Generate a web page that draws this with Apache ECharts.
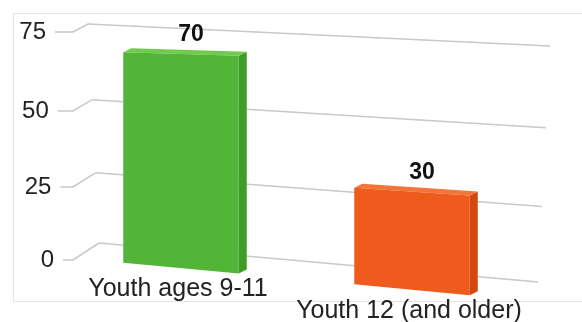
<!DOCTYPE html>
<html><head><meta charset="utf-8">
<script src="https://cdn.jsdelivr.net/npm/echarts@6/dist/echarts.min.js"></script>
<style>html,body{margin:0;padding:0;background:#fff}#c{width:582px;height:322px}</style>
</head><body><div id="c"></div>
<script>
// ---- data ----
const categories = ['Youth ages 9-11', 'Youth 12 (and older)'];
const values = [70, 30];
const tickValues = [0, 25, 50, 75];
const tickLabels = ['0', '25', '50', '75'];

// ---- style / layout ----
const faceColors = [
  {front: '#53b537', top: '#6fcb4e', side: '#3f9c28'},
  {front: '#ef5a1d', top: '#f47538', side: '#d24810'}
];
const BAR_PLANE = {y0L: 257.2, y0R: 300.6, y1L: 35.8, y1R: 47.5};
const BACK = {tl: [88, 24], tr: [550, 46], bl: [99, 243], br: [538, 282]};
const SIDE_FRONT = {x: 73, yTop: 32, yBot: 260};
const TICK_START = {xTop: 55, xBot: 63};
const DEPTH = [8, -4];
const FONT = '"Liberation Sans", Arial, sans-serif';

function frac(cs, px, py) {
  return [(px - cs.x) / cs.width, (cs.y + cs.height - py) / cs.height];
}
function warp(v) { return v - 0.015 * Math.sin(Math.PI * v); }
function barPoint(cs, p) {
  const f = frac(cs, p[0], p[1]);
  const u = f[0], v = f[1];
  const y0 = BAR_PLANE.y0L + (BAR_PLANE.y0R - BAR_PLANE.y0L) * u;
  const y1 = BAR_PLANE.y1L + (BAR_PLANE.y1R - BAR_PLANE.y1L) * u;
  return [p[0], y0 + (y1 - y0) * v];
}
function backPoint(u, v) {
  v = warp(v);
  const l = [BACK.bl[0] + (BACK.tl[0] - BACK.bl[0]) * v, BACK.bl[1] + (BACK.tl[1] - BACK.bl[1]) * v];
  const r = [BACK.br[0] + (BACK.tr[0] - BACK.br[0]) * v, BACK.br[1] + (BACK.tr[1] - BACK.br[1]) * v];
  return [l[0] + (r[0] - l[0]) * u, l[1] + (r[1] - l[1]) * u];
}
function add(p, d) { return [p[0] + d[0], p[1] + d[1]]; }

const chart = echarts.init(document.getElementById('c'), null, {renderer: 'canvas'});

const option = {
  animation: false,
  backgroundColor: '#ffffff',
  graphic: [{
    type: 'rect', z: -10, silent: true,
    shape: {x: 13.5, y: 13.5, width: 600, height: 288},
    style: {fill: 'none', stroke: '#e4e4e4', lineWidth: 1}
  }],
  grid: {left: 65.5, right: 54.5, top: 30, bottom: 60},
  xAxis: {type: 'category', data: categories, show: false},
  yAxis: {type: 'value', min: 0, max: 75, interval: 25, show: false},
  series: [
    {
      type: 'custom',
      z: 1,
      silent: true,
      data: tickValues.map(function (t, i) { return [0, t, i]; }),
      renderItem: function (params, api) {
        const cs = params.coordSys;
        const t = api.value(1);
        const idx = api.value(2);
        const p = api.coord([0, t]);
        const v = frac(cs, p[0], p[1])[1];
        const wv = warp(v);
        const bl = backPoint(0, v), br = backPoint(1, v);
        const fy = SIDE_FRONT.yBot + (SIDE_FRONT.yTop - SIDE_FRONT.yBot) * wv;
        const tx = TICK_START.xBot + (TICK_START.xTop - TICK_START.xBot) * wv;
        const lineStyle = {stroke: '#c8c8c8', lineWidth: 1.5, fill: null};
        return {
          type: 'group',
          children: [
            {type: 'line', shape: {x1: bl[0], y1: bl[1], x2: br[0], y2: br[1]}, style: lineStyle},
            {type: 'polyline', shape: {points: [[tx, fy], [SIDE_FRONT.x, fy], bl]}, style: lineStyle},
            {type: 'text', style: {
              text: tickLabels[idx], x: tx - 9, y: fy, align: 'right', verticalAlign: 'middle',
              font: '24px ' + FONT, fill: '#222'
            }}
          ]
        };
      }
    },
    {
      type: 'custom',
      z: 2,
      silent: true,
      data: values.map(function (v, i) { return [i, v]; }),
      renderItem: function (params, api) {
        const cs = params.coordSys;
        const i = api.value(0);
        const val = api.value(1);
        const c0 = api.coord([i, 0]);
        const c1 = api.coord([i, val]);
        const band = api.size([1, 0])[0];
        const hw = band * 0.25;
        const fl0 = barPoint(cs, [c0[0] - hw, c0[1]]);
        const fr0 = barPoint(cs, [c0[0] + hw, c0[1]]);
        const fl1 = barPoint(cs, [c1[0] - hw, c1[1]]);
        const fr1 = barPoint(cs, [c1[0] + hw, c1[1]]);
        const col = faceColors[i];
        const topMid = [(fl1[0] + fr1[0]) / 2 + DEPTH[0], (fl1[1] + fr1[1]) / 2 + DEPTH[1]];
        const botMid = [(fl0[0] + fr0[0]) / 2, (fl0[1] + fr0[1]) / 2];
        return {
          type: 'group',
          children: [
            {type: 'polygon', shape: {points: [fr0, fr1, add(fr1, DEPTH), add(fr0, DEPTH)]}, style: {fill: col.side}},
            {type: 'polygon', shape: {points: [fl1, fr1, add(fr1, DEPTH), add(fl1, DEPTH)]}, style: {fill: col.top}},
            {type: 'polygon', shape: {points: [fl0, fr0, fr1, fl1]}, style: {fill: col.front}},
            {type: 'text', style: {
              text: String(val), x: topMid[0] + 2, y: topMid[1] - 15.5, align: 'center', verticalAlign: 'middle',
              font: 'bold 23px ' + FONT, fill: '#111'
            }},
            {type: 'text', style: {
              text: categories[i], x: botMid[0] - 3, y: botMid[1] + 21, align: 'center', verticalAlign: 'middle',
              font: '25px ' + FONT, fill: '#222'
            }}
          ]
        };
      }
    }
  ]
};
chart.setOption(option);
</script>
</body></html>
